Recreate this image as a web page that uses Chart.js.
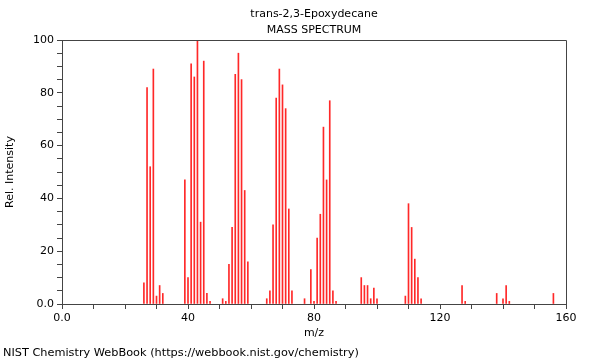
<!DOCTYPE html>
<html>
<head>
<meta charset="utf-8">
<script src="https://cdn.jsdelivr.net/npm/chart.js@4/dist/chart.umd.min.js"></script>
<style>
  html, body { margin: 0; padding: 0; background: #fff; }
  #wrap { width: 600px; height: 360px; }
</style>
</head>
<body>
<div id="wrap"><canvas id="spectrum" width="600" height="360"></canvas></div>
<script>
const titleLines = ['trans-2,3-Epoxydecane', 'MASS SPECTRUM'];
const footerText = 'NIST Chemistry WebBook (https://webbook.nist.gov/chemistry)';

// m/z values and relative intensities
const mzValues = [
    26, 27, 28, 29, 30, 31, 32,
    39, 40, 41, 42, 43, 44, 45, 46, 47,
    51, 52, 53, 54, 55, 56, 57, 58, 59,
    65, 66, 67, 68, 69, 70, 71, 72, 73,
    77, 79, 80, 81, 82, 83, 84, 85, 86, 87,
    95, 96, 97, 98, 99, 100,
    109, 110, 111, 112, 113, 114,
    127, 128, 138, 140, 141, 142, 156
];
const intensities = [
    8, 82, 52, 89, 3, 7, 4,
    47, 10, 91, 86, 100, 31, 92, 4, 1,
    2, 1, 15, 29, 87, 95, 85, 43, 16,
    2, 5, 30, 78, 89, 83, 74, 36, 5,
    2, 13, 1, 25, 34, 67, 47, 77, 5, 1,
    10, 7, 7, 2, 6, 2,
    3, 38, 29, 17, 10, 2,
    7, 1, 4, 2, 7, 1, 4
];

const xTickLabels = [0, 40, 80, 120, 160];
const yTickLabels = [0, 20, 40, 60, 80, 100];

const points = mzValues.map((m, i) => ({ x: m, y: intensities[i] }));
const axisColor = '#444';
const fontFamily = '"DejaVu Sans", sans-serif';

function tickText(v, list) {
    if (!list.includes(v)) return '';
    return v === 0 ? '0.0' : String(v);
}

// titles, footer and the top/right frame lines
const decorPlugin = {
    id: 'decor',
    afterDraw(chart) {
        const ctx = chart.ctx;
        const area = chart.chartArea;
        ctx.save();
        ctx.fillStyle = '#000';
        ctx.font = '11px ' + fontFamily;
        ctx.textBaseline = 'alphabetic';
        ctx.textAlign = 'center';
        const cx = (area.left + area.right) / 2;
        ctx.fillText(titleLines[0], cx, 17);
        ctx.fillText(titleLines[1], cx, 33);
        ctx.textAlign = 'left';
        ctx.font = '11.3px ' + fontFamily;
        ctx.fillText(footerText, 3, 356);

        ctx.strokeStyle = axisColor;
        ctx.lineWidth = 1;
        ctx.beginPath();
        ctx.moveTo(Math.round(area.left), Math.round(area.top) + 0.5);
        ctx.lineTo(Math.round(area.right) + 0.5, Math.round(area.top) + 0.5);
        ctx.lineTo(Math.round(area.right) + 0.5, Math.round(area.bottom));
        ctx.stroke();
        ctx.restore();
    }
};

const ctx = document.getElementById('spectrum').getContext('2d');
new Chart(ctx, {
    type: 'bar',
    data: {
        datasets: [{
            data: points,
            backgroundColor: 'rgb(255,40,40)',
            borderWidth: 0,
            barThickness: 1,
            grouped: false
        }]
    },
    options: {
        responsive: false,
        animation: false,
        layout: { padding: { top: 40, right: 34, bottom: 0, left: 0 } },
        plugins: {
            legend: { display: false },
            tooltip: { enabled: false }
        },
        scales: {
            x: {
                type: 'linear',
                min: 0,
                max: 160,
                offset: false,
                afterFit: s => { s.height = 56; },
                border: { display: true, color: axisColor },
                grid: { display: true, offset: false, drawOnChartArea: false, drawTicks: true, tickLength: 5, color: axisColor },
                ticks: {
                    stepSize: 10,
                    autoSkip: false,
                    maxRotation: 0,
                    padding: 3,
                    color: '#000',
                    font: { family: fontFamily, size: 11 },
                    callback: v => tickText(v, xTickLabels)
                },
                title: {
                    display: true,
                    text: 'm/z',
                    color: '#000',
                    font: { family: fontFamily, size: 11 },
                    padding: { top: 0, bottom: 20 }
                }
            },
            y: {
                min: 0,
                max: 100,
                afterFit: s => { s.width = 62; },
                border: { display: true, color: axisColor },
                grid: { display: true, drawOnChartArea: false, drawTicks: true, tickLength: 5, color: axisColor },
                ticks: {
                    stepSize: 5,
                    autoSkip: false,
                    padding: 3,
                    color: '#000',
                    font: { family: fontFamily, size: 11 },
                    callback: v => tickText(v, yTickLabels)
                },
                title: {
                    display: true,
                    text: 'Rel. Intensity',
                    color: '#000',
                    font: { family: fontFamily, size: 11 },
                    padding: { top: 4, bottom: 0 }
                }
            }
        }
    },
    plugins: [decorPlugin]
});
</script>
</body>
</html>
